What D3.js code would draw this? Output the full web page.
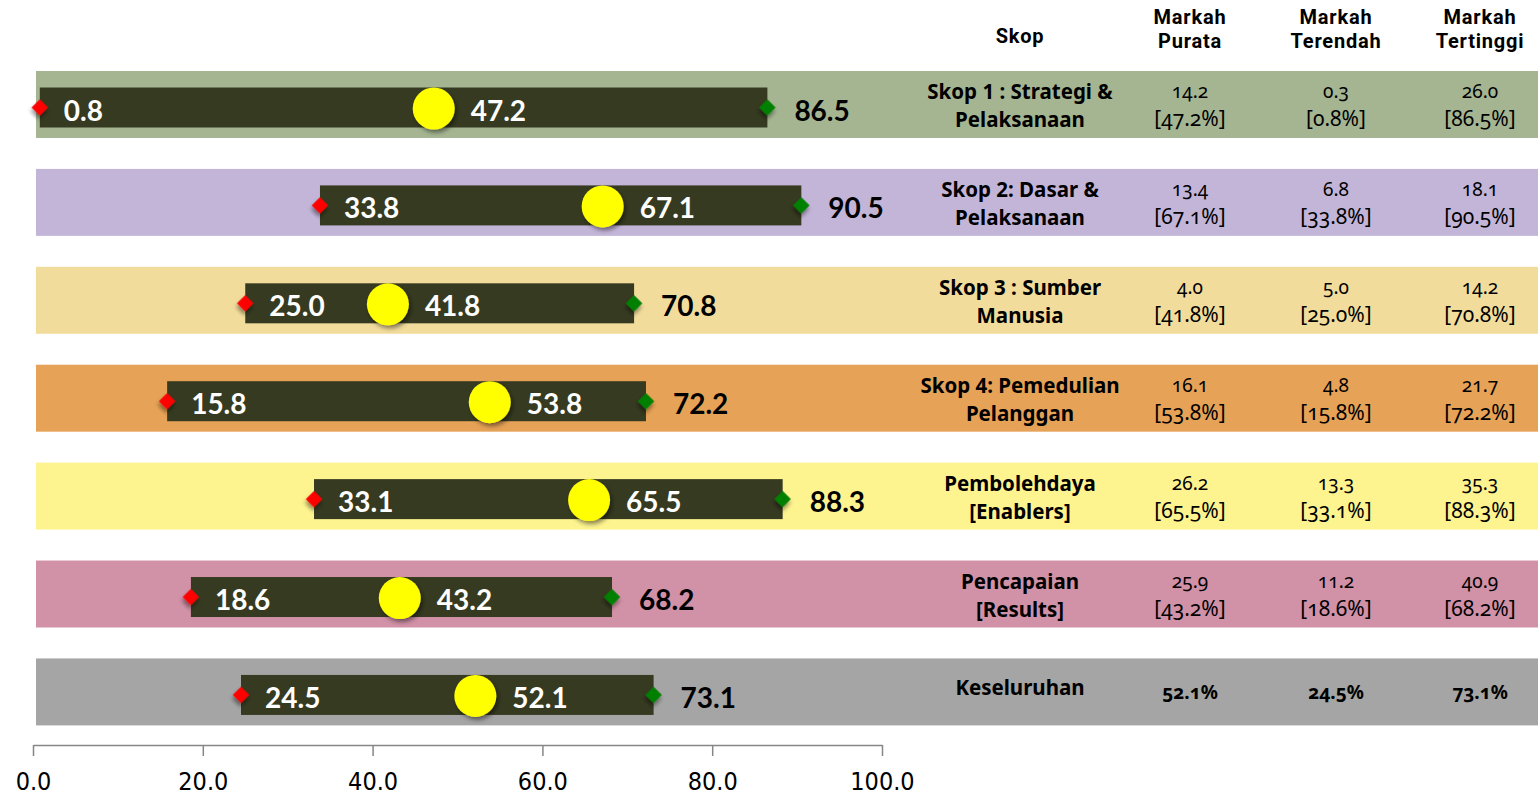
<!DOCTYPE html>
<html>
<head>
<meta charset="utf-8">
<script src="https://cdn.jsdelivr.net/npm/d3@7"></script>
<style>
  html, body { margin: 0; padding: 0; background: #fff; }
  svg { display: block; }
</style>
</head>
<body>
<svg id="chart" width="1538" height="797"></svg>
<script>
// Score ranges per assessment scope (percent of maximum score)
const skopLabels = [
  ["Skop 1 : Strategi &", "Pelaksanaan"],
  ["Skop 2: Dasar &", "Pelaksanaan"],
  ["Skop 3 : Sumber", "Manusia"],
  ["Skop 4: Pemedulian", "Pelanggan"],
  ["Pembolehdaya", "[Enablers]"],
  ["Pencapaian", "[Results]"],
  ["Keseluruhan"]
];
const minPct  = [0.8, 33.8, 25.0, 15.8, 33.1, 18.6, 24.5];
const meanPct = [47.2, 67.1, 41.8, 53.8, 65.5, 43.2, 52.1];
const maxPct  = [86.5, 90.5, 70.8, 72.2, 88.3, 68.2, 73.1];

// Raw scores shown in the table (last row shows percentages only)
const meanScore = ["14.2", "13.4", "4.0", "16.1", "26.2", "25.9", null];
const minScore  = ["0.3", "6.8", "5.0", "4.8", "13.3", "11.2", null];
const maxScore  = ["26.0", "18.1", "14.2", "21.7", "35.3", "40.9", null];

const headers = [["Skop"], ["Markah", "Purata"], ["Markah", "Terendah"], ["Markah", "Tertinggi"]];
const axisTicks = [0, 20, 40, 60, 80, 100];
const bandColors = ["#a5b592", "#c3b5d8", "#f2dc9c", "#e6a256", "#fdf38f", "#d191a6", "#a5a5a5"];

const svg = d3.select("#chart");

const x = d3.scaleLinear().domain([0, 100]).range([33, 882]);
const y = d3.scaleBand()
  .domain(d3.range(skopLabels.length))
  .range([71, 725.4])
  .paddingInner(0.316)
  .paddingOuter(0);

const colX = [1020, 1190, 1336, 1480];

// drop shadow for markers
const defs = svg.append("defs");
const f = defs.append("filter").attr("id", "shadow")
  .attr("x", "-50%").attr("y", "-50%").attr("width", "200%").attr("height", "200%");
f.append("feDropShadow").attr("dx", 2).attr("dy", 3).attr("stdDeviation", 2)
  .attr("flood-color", "#000").attr("flood-opacity", 0.45);

const rows = svg.append("g").selectAll("g.row")
  .data(skopLabels.map((label, i) => ({
    i, label, min: minPct[i], mean: meanPct[i], max: maxPct[i],
    ms: meanScore[i], ls: minScore[i], hs: maxScore[i]
  })))
  .join("g").attr("class", "row");

// background bands
rows.append("rect")
  .attr("x", 36).attr("y", d => y(d.i))
  .attr("width", 1538 - 36).attr("height", y.bandwidth())
  .attr("fill", d => bandColors[d.i]);

const barH = 40;
const cy = d => y(d.i) + 36.5;

// range bars
rows.append("rect")
  .attr("x", d => x(d.min)).attr("y", d => cy(d) - barH / 2)
  .attr("width", d => x(d.max) - x(d.min)).attr("height", barH)
  .attr("fill", "#363a20");

// min / max diamonds
const diamond = d3.symbol().type(d3.symbolSquare).size(135);
rows.append("path")
  .attr("d", diamond)
  .attr("transform", d => `translate(${x(d.min)},${cy(d)}) rotate(45)`)
  .attr("fill", "#ff0000").attr("filter", "url(#shadow)");
rows.append("path")
  .attr("d", diamond)
  .attr("transform", d => `translate(${x(d.max)},${cy(d)}) rotate(45)`)
  .attr("fill", "#008000").attr("filter", "url(#shadow)");

// mean circles
rows.append("circle")
  .attr("cx", d => x(d.mean)).attr("cy", d => cy(d) + 1)
  .attr("r", 21)
  .attr("fill", "#ffff00").attr("filter", "url(#shadow)");

const fmt = d3.format(".1f");
const barFont = "Lato, 'Open Sans', sans-serif";

rows.append("text")
  .attr("x", d => x(d.min) + 24).attr("y", d => cy(d) + 13)
  .attr("font-family", barFont).attr("font-weight", 700).attr("font-size", 28)
  .attr("fill", "#fff").text(d => fmt(d.min));
rows.append("text")
  .attr("x", d => x(d.mean) + 37).attr("y", d => cy(d) + 13)
  .attr("font-family", barFont).attr("font-weight", 700).attr("font-size", 28)
  .attr("fill", "#fff").text(d => fmt(d.mean));
rows.append("text")
  .attr("x", d => x(d.max) + 27).attr("y", d => cy(d) + 13)
  .attr("font-family", barFont).attr("font-weight", 700).attr("font-size", 28)
  .attr("fill", "#000").text(d => fmt(d.max));

// table
const tableFont = "'Noto Sans', sans-serif";

// column headers
const hdr = svg.append("g").attr("font-family", "Roboto, 'Noto Sans', sans-serif")
  .attr("font-weight", 700).attr("font-size", 20).attr("letter-spacing", 0.8)
  .attr("text-anchor", "middle").attr("fill", "#000");
headers.forEach((lines, c) => {
  const ys = lines.length === 1 ? [43] : [23.5, 47.5];
  lines.forEach((s, k) => {
    hdr.append("text").attr("x", colX[c]).attr("y", ys[k]).text(s);
  });
});

rows.each(function(d) {
  const g = d3.select(this).append("g")
    .attr("font-family", tableFont).attr("text-anchor", "middle").attr("fill", "#000");
  const top = y(d.i);
  const single = d.label.length === 1;
  const lbl = g.append("text").attr("x", colX[0])
    .attr("y", single ? top + 37 : top + 28)
    .attr("font-weight", 700).attr("font-size", 20.5);
  d.label.forEach((s, k) => {
    lbl.append("tspan").attr("x", colX[0]).attr("dy", k === 0 ? 0 : 28).text(s);
  });
  const cells = [[d.ms, d.mean], [d.ls, d.min], [d.hs, d.max]];
  cells.forEach(([score, pct], c) => {
    if (score === null) {
      g.append("text").attr("x", colX[c + 1]).attr("y", top + 41)
        .attr("font-weight", 700).attr("font-size", 19)
        .style("font-variant-numeric", "oldstyle-nums")
        .text(fmt(pct) + "%");
    } else {
      const t = g.append("text").attr("y", top + 27)
        .style("font-variant-numeric", "oldstyle-nums");
      t.append("tspan").attr("x", colX[c + 1]).attr("font-size", 19).text(score);
      t.append("tspan").attr("x", colX[c + 1]).attr("dy", 28).attr("font-size", 21)
        .text("[" + fmt(pct) + "%]");
    }
  });
});

// x axis
const axis = d3.axisBottom(x)
  .tickValues(axisTicks)
  .tickFormat(fmt)
  .tickSize(11)
  .tickSizeOuter(0);
const ax = svg.append("g").attr("transform", "translate(0,745)").call(axis);
ax.select(".domain").attr("stroke", "#868686").attr("stroke-width", 1.5);
ax.selectAll(".tick line").attr("stroke", "#868686").attr("stroke-width", 1.5);
ax.selectAll(".tick text")
  .attr("y", 27)
  .attr("font-family", "'Liberation Sans Narrow', 'DejaVu Sans Condensed', 'Arial Narrow', sans-serif")
  .style("font-stretch", "condensed")
  .attr("font-size", 25).attr("fill", "#000");
</script>
</body>
</html>
